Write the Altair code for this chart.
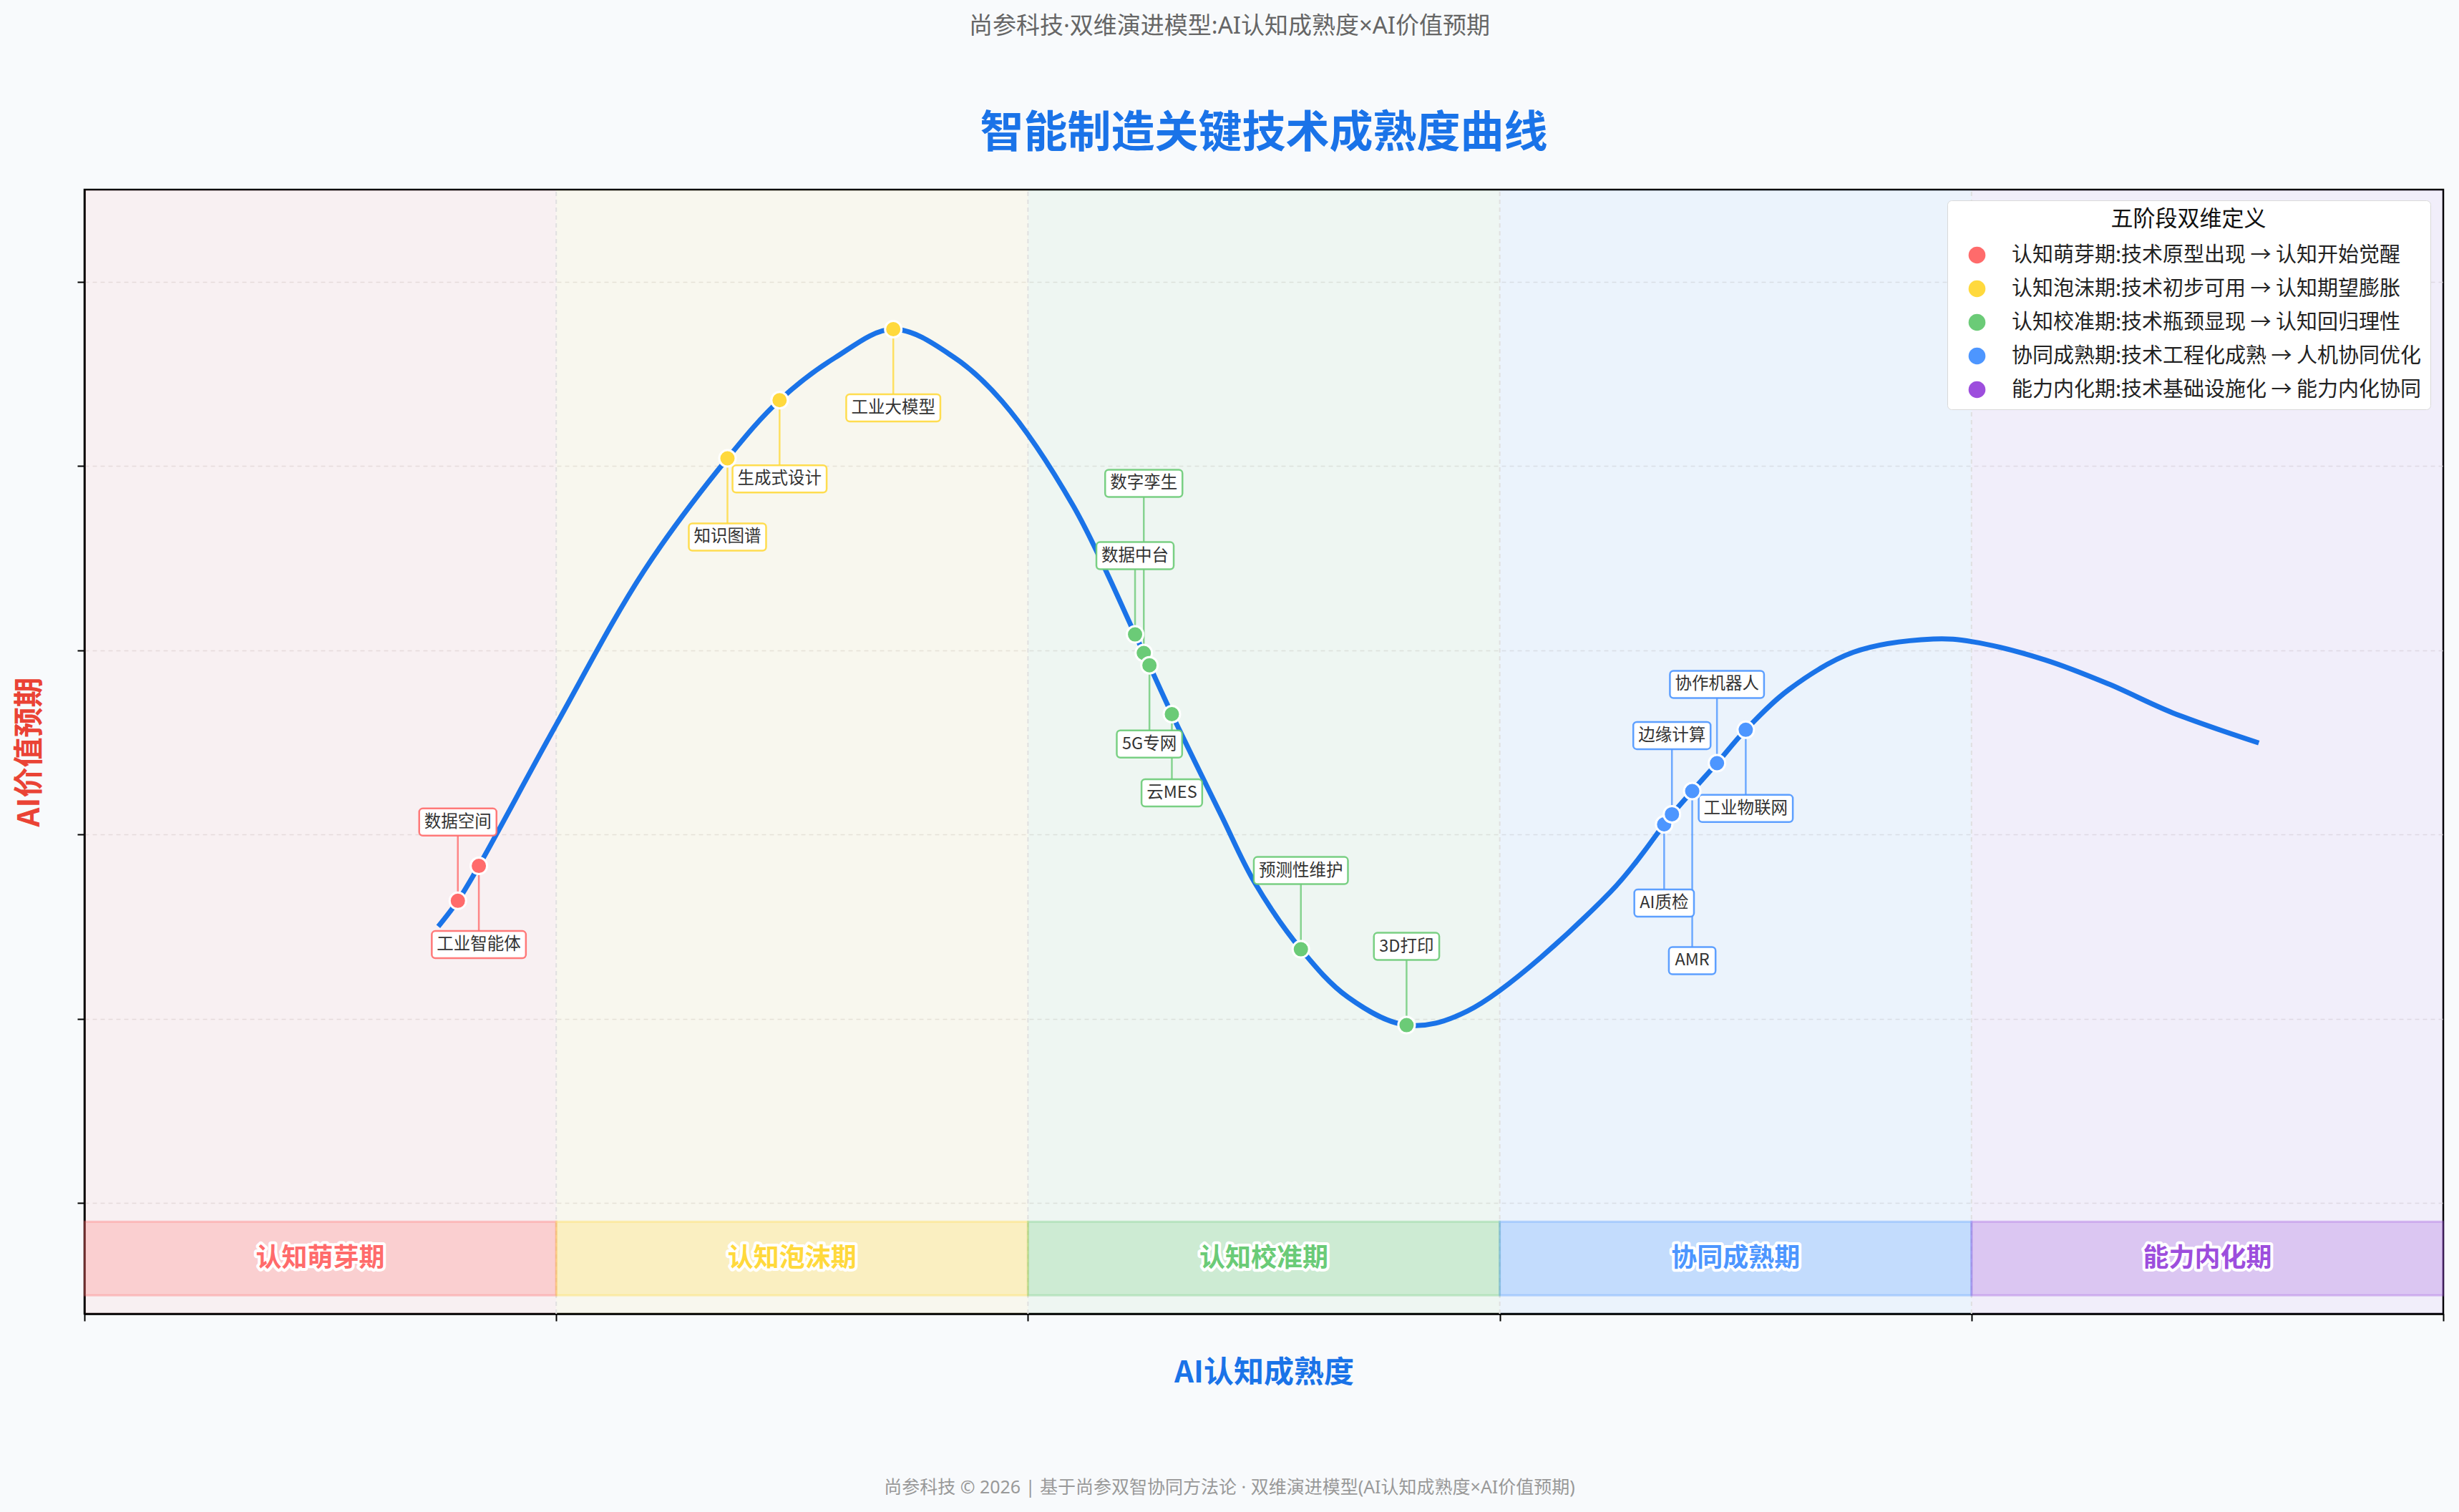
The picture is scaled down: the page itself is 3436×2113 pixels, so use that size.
import altair as alt
import pandas as pd

# ---------------- data ----------------
phase_names = ["认知萌芽期", "认知泡沫期", "认知校准期", "协同成熟期", "能力内化期"]
phase_colors = ["#FF6B6B", "#FFD93D", "#6BCB77", "#4D96FF", "#9D4EDD"]
phase_desc = [
    "认知萌芽期:技术原型出现 → 认知开始觉醒",
    "认知泡沫期:技术初步可用 → 认知期望膨胀",
    "认知校准期:技术瓶颈显现 → 认知回归理性",
    "协同成熟期:技术工程化成熟 → 人机协同优化",
    "能力内化期:技术基础设施化 → 能力内化协同",
]
phase_start = [0, 20, 40, 60, 80]
phase_end = [20, 40, 60, 80, 100]

curve_x = [15.0, 15.83, 16.72, 20.01, 23.72, 27.26, 29.47, 31.82, 34.29, 36.87,
           38.9, 41.93, 44.54, 44.91, 45.15, 46.10, 48.20, 49.61, 51.57, 53.56,
           56.05, 58.62, 64.69, 66.97, 67.30, 68.16, 69.21, 70.43, 72.27, 74.99,
           78.38, 80.05, 83.11, 85.81, 88.53, 92.18]
curve_y = [30.03, 32.82, 36.61, 51.98, 68.62, 80.84, 87.15, 91.76, 94.86, 91.79,
           87.03, 75.63, 61.73, 59.72, 58.38, 53.08, 42.06, 34.81, 27.56, 22.37,
           19.33, 20.84, 33.77, 41.12, 42.21, 44.73, 47.76, 51.38, 55.77, 59.79,
           61.23, 60.93, 58.97, 56.35, 53.22, 49.95]

tech_names = ["数据空间", "工业智能体", "知识图谱", "生成式设计", "工业大模型",
              "数据中台", "数字孪生", "5G专网", "云MES", "预测性维护", "3D打印",
              "AI质检", "边缘计算", "AMR", "协作机器人", "工业物联网"]
tech_x = [15.83, 16.72, 27.26, 29.47, 34.29, 44.54, 44.91, 45.15, 46.10, 51.57, 56.05,
          66.97, 67.30, 68.16, 69.21, 70.43]
tech_y = [32.82, 36.61, 80.84, 87.15, 94.86, 61.73, 59.72, 58.38, 53.08, 27.56, 19.33,
          41.12, 42.21, 44.73, 47.76, 51.38]
tech_phase = [0, 0, 1, 1, 1, 2, 2, 2, 2, 2, 2, 3, 3, 3, 3, 3]
tech_side = [1, -1, -1, -1, -1, 1, 2, -1, -1, 1, 1, -1, 1, -2, 1, -1]

# ---------------- layout constants ----------------
PLOT_W, PLOT_H = 3296, 1571
X_DOM = [0, 100]
Y_DOM = [-12, 110]
BAND_LO, BAND_HI = -10, -2
FONT = "Noto Sans CJK SC"
FONT_MIX = "Noto Sans, Noto Sans CJK SC"
LABEL_FS = 23.5
GAP1, GAP2 = 110, 237
BOX_H = 38

px_x = (X_DOM[1] - X_DOM[0]) / PLOT_W
px_y = (Y_DOM[1] - Y_DOM[0]) / PLOT_H

latin_w = {"5": 0.57, "G": 0.72, "A": 0.66, "I": 0.29, "M": 0.89, "R": 0.63,
           "E": 0.57, "S": 0.55, "3": 0.57, "D": 0.72}


def text_width(s, fs):
    w = 0.0
    for c in s:
        w += fs if ord(c) > 255 else latin_w.get(c, 0.6) * fs
    return w


phase_df = pd.DataFrame({
    "name": phase_names, "col": phase_colors, "start": phase_start, "end": phase_end,
})
phase_df["mid"] = (phase_df["start"] + phase_df["end"]) / 2
phase_df["ylo"] = Y_DOM[0]
phase_df["yhi"] = Y_DOM[1]
phase_df["blo"] = BAND_LO
phase_df["bhi"] = BAND_HI
phase_df["bmid"] = (BAND_LO + BAND_HI) / 2

bound_df = pd.DataFrame({"b": phase_start[1:]})
bound_df["ylo"] = Y_DOM[0]
bound_df["yhi"] = Y_DOM[1]

curve_df = pd.DataFrame({"x": curve_x, "y": curve_y})

rows = []
for n, x, y, p, s in zip(tech_names, tech_x, tech_y, tech_phase, tech_side):
    gap = GAP1 if abs(s) == 1 else GAP2
    ly = y + (1 if s > 0 else -1) * gap * px_y
    w = text_width(n, LABEL_FS) + 14
    rows.append({
        "name": n, "x": x, "y": y, "col": phase_colors[p], "desc": phase_desc[p],
        "ly": ly, "bx1": x - w / 2 * px_x, "bx2": x + w / 2 * px_x,
        "by1": ly - BOX_H / 2 * px_y, "by2": ly + BOX_H / 2 * px_y,
    })
tech_df = pd.DataFrame(rows)

xs = alt.Scale(domain=X_DOM, nice=False, zero=False)
ys = alt.Scale(domain=Y_DOM, nice=False, zero=False)
x_axis = alt.Axis(values=[0, 20, 40, 60, 80, 100], labels=False, tickSize=10, tickColor="black",
                  tickWidth=2, domainColor="black", domainWidth=2.5, grid=False,
                  title="AI认知成熟度", titleFontSize=42,
                  titleColor="#1A73E8", titleFontWeight="bold", titleFont=FONT, titlePadding=51)
y_axis = alt.Axis(values=[0, 20, 40, 60, 80, 100], labels=False, tickSize=10, tickColor="black",
                  tickWidth=2, domainColor="black", domainWidth=2.5, grid=True, gridColor="#e3e3e3",
                  gridDash=[6, 5], gridWidth=1.5, title="AI价值预期", titleFontSize=42,
                  titleColor="#EA4335", titleFontWeight="bold", titleFont=FONT, titlePadding=44)


def X(f):
    return alt.X(f, type="quantitative", scale=xs, axis=x_axis)


def Y(f):
    return alt.Y(f, type="quantitative", scale=ys, axis=y_axis)


bg = alt.Chart(phase_df).mark_rect(opacity=0.07).encode(
    x=X("start"), x2="end", y=Y("ylo"), y2="yhi", fill=alt.Fill("col:N", scale=None))

bounds = alt.Chart(bound_df).mark_rule(color="#e0e0e0", strokeWidth=2, strokeDash=[6, 5]).encode(
    x=X("b"), y=Y("ylo"), y2="yhi")

band = alt.Chart(phase_df).mark_rect(fillOpacity=0.25, strokeOpacity=0.3, strokeWidth=3).encode(
    x=X("start"), x2="end", y=Y("blo"), y2="bhi",
    fill=alt.Fill("col:N", scale=None), stroke=alt.Stroke("col:N", scale=None))

band_halo = alt.Chart(phase_df).mark_text(
    fontSize=36, fontWeight="bold", font=FONT, stroke="white", strokeWidth=8,
    fill="white", baseline="middle", align="center", strokeJoin="round").encode(
    x=X("mid"), y=Y("bmid"), text="name:N")

band_text = alt.Chart(phase_df).mark_text(
    fontSize=36, fontWeight="bold", font=FONT, baseline="middle", align="center").encode(
    x=X("mid"), y=Y("bmid"), text="name:N", fill=alt.Fill("col:N", scale=None))

curve = alt.Chart(curve_df).mark_line(
    color="#1A73E8", strokeWidth=7, interpolate="catmull-rom").encode(
    x=X("x"), y=Y("y"), order="x:Q")

leader = alt.Chart(tech_df).mark_rule(strokeWidth=2.5, opacity=0.8).encode(
    x=X("x"), y=Y("y"), y2="ly", stroke=alt.Stroke("col:N", scale=None))

boxes = alt.Chart(tech_df).mark_rect(fill="white", strokeWidth=2.5, cornerRadius=5,
                                     strokeOpacity=0.9).encode(
    x=X("bx1"), x2="bx2", y=Y("by1"), y2="by2", stroke=alt.Stroke("col:N", scale=None))

labels = alt.Chart(tech_df).mark_text(
    fontSize=LABEL_FS, font=FONT, color="#333333", baseline="middle", align="center").encode(
    x=X("x"), y=Y("ly"), text="name:N")

legend = alt.Legend(
    title="五阶段双维定义", orient="none", legendX=2603, legendY=15,
    fillColor="white", strokeColor="#d9d9d9", cornerRadius=6, padding=12,
    titleFontSize=31, titleColor="#111111", titleFontWeight="normal", titleFont=FONT,
    titleAnchor="middle", titlePadding=19, titleLimit=2000,
    labelFontSize=29, labelColor="#222222", labelFont=FONT, labelLimit=2000, labelOffset=34,
    symbolType="circle", symbolSize=560, symbolStrokeWidth=0, symbolOffset=15,
    rowPadding=17, symbolOpacity=1)

dots = alt.Chart(tech_df).mark_circle(size=530, opacity=1, stroke="white", strokeWidth=3).encode(
    x=X("x"), y=Y("y"),
    color=alt.Color("desc:N", scale=alt.Scale(domain=phase_desc, range=phase_colors), legend=legend))

one = pd.DataFrame({"k": [0]})
subtitle = alt.Chart(one).mark_text(
    text="尚参科技·双维演进模型:AI认知成熟度×AI价值预期", fontSize=33, color="#666666",
    font=FONT_MIX, baseline="middle", align="center").encode(x=alt.value(1600), y=alt.value(-228))
main_title = alt.Chart(one).mark_text(
    text="智能制造关键技术成熟度曲线", fontSize=61, fontWeight="bold", color="#1A73E8",
    font=FONT, baseline="middle", align="center").encode(x=alt.value(1648), y=alt.value(-77))
footer = alt.Chart(one).mark_text(
    text="尚参科技 © 2026 | 基于尚参双智协同方法论 · 双维演进模型(AI认知成熟度×AI价值预期)",
    fontSize=25, color="#999999", font=FONT_MIX, baseline="middle", align="center").encode(
    x=alt.value(1600), y=alt.value(1814))

chart = alt.layer(
    bg, bounds, band, band_halo, band_text, curve, leader, boxes, labels, dots,
    subtitle, main_title, footer
).properties(
    width=PLOT_W, height=PLOT_H,
    padding={"left": 118, "top": 265, "right": 22, "bottom": 277},
    autosize=alt.AutoSizeParams(type="none"),
).configure(
    background="#F8FAFC", font=FONT
).configure_view(stroke="black", strokeWidth=2.5)

chart.save("out.html", embed_options={"renderer": "svg", "actions": False})
